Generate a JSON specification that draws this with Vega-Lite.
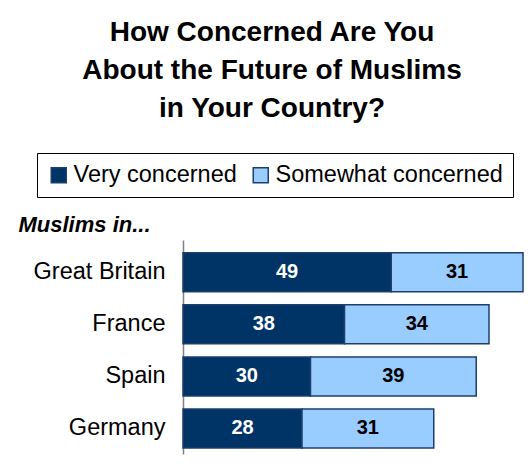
{
  "$schema": "https://vega.github.io/schema/vega-lite/v6.json",
  "width": 340,
  "height": 214,
  "autosize": {"type": "none"},
  "padding": {"left": 183, "top": 240, "right": 8, "bottom": 21},
  "background": "white",
  "config": {"view": {"stroke": null}, "font": "Liberation Sans"},
  "title": {
    "text": ["How Concerned Are You", "About the Future of Muslims", "in Your Country?"],
    "fontSize": 28,
    "fontWeight": "bold",
    "font": "Liberation Sans",
    "color": "black",
    "anchor": "start",
    "align": "center",
    "frame": "group",
    "dx": 89,
    "lineHeight": 38,
    "offset": 30
  },
  "data": {
    "values": [
      {"country": "Great Britain", "level": "Very concerned", "value": 49, "order": 1},
      {"country": "Great Britain", "level": "Somewhat concerned", "value": 31, "order": 2},
      {"country": "France", "level": "Very concerned", "value": 38, "order": 1},
      {"country": "France", "level": "Somewhat concerned", "value": 34, "order": 2},
      {"country": "Spain", "level": "Very concerned", "value": 30, "order": 1},
      {"country": "Spain", "level": "Somewhat concerned", "value": 39, "order": 2},
      {"country": "Germany", "level": "Very concerned", "value": 28, "order": 1},
      {"country": "Germany", "level": "Somewhat concerned", "value": 31, "order": 2}
    ]
  },
  "transform": [
    {"stack": "value", "groupby": ["country"], "sort": [{"field": "order"}], "as": ["x0", "x1"]},
    {"calculate": "(datum.x0 + datum.x1) / 2", "as": "mid"}
  ],
  "encoding": {
    "y": {
      "field": "country",
      "type": "nominal",
      "sort": ["Great Britain", "France", "Spain", "Germany"],
      "scale": {"paddingInner": 0.25, "paddingOuter": 0.18, "align": 0.68},
      "axis": {
        "title": "Muslims in...",
        "titleAngle": 0,
        "titleX": -165,
        "titleY": -9,
        "titleAlign": "left",
        "titleBaseline": "alphabetic",
        "titleFont": "Liberation Sans",
        "titleFontSize": 22,
        "titleFontWeight": "bold",
        "titleFontStyle": "italic",
        "titleColor": "black",
        "labelFont": "Liberation Sans",
        "labelFontSize": 23.5,
        "labelColor": "black",
        "labelPadding": 18,
        "ticks": false,
        "domainColor": "#808080",
        "domainWidth": 1.5
      }
    }
  },
  "layer": [
    {
      "mark": {"type": "bar", "stroke": "#1c3f6e", "strokeWidth": 1.5},
      "encoding": {
        "x": {"field": "x0", "type": "quantitative", "scale": {"domain": [0, 80]}, "axis": null},
        "x2": {"field": "x1"},
        "color": {
          "field": "level",
          "type": "nominal",
          "sort": ["Very concerned", "Somewhat concerned"],
          "scale": {"domain": ["Very concerned", "Somewhat concerned"], "range": ["#003366", "#99ccff"]},
          "legend": {
            "orient": "none",
            "legendX": -146,
            "legendY": -87,
            "direction": "horizontal",
            "title": null,
            "symbolType": "square",
            "symbolSize": 225,
            "symbolStrokeColor": "#1c3f6e",
            "symbolStrokeWidth": 1.5,
            "labelFont": "Liberation Sans",
            "labelFontSize": 23.5,
            "labelColor": "black",
            "labelOffset": 3,
            "columnPadding": 12,
            "labelLimit": 400,
            "strokeColor": "black",
            "padding": 10
          }
        }
      }
    },
    {
      "mark": {"type": "text", "fontWeight": "bold", "fontSize": 20, "font": "Liberation Sans", "baseline": "middle"},
      "encoding": {
        "x": {"field": "mid", "type": "quantitative"},
        "text": {"field": "value", "type": "quantitative"},
        "color": {"condition": {"test": "datum.level === 'Very concerned'", "value": "white"}, "value": "black"}
      }
    }
  ]
}
